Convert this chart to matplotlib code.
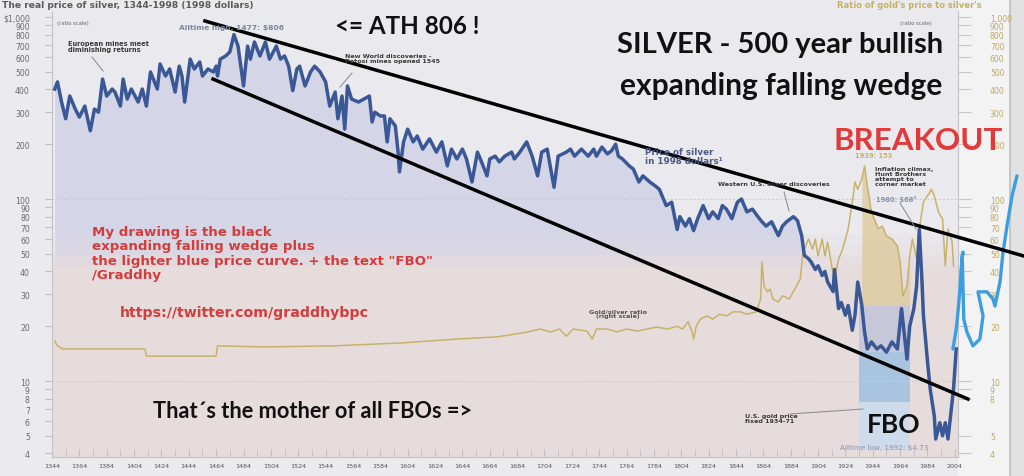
import numpy as np
import matplotlib
matplotlib.use("Agg")
import matplotlib.pyplot as plt
from matplotlib.lines import Line2D
from matplotlib.patches import Rectangle
from matplotlib.ticker import FixedLocator, NullLocator

W, H, DPI = 1024, 477, 100

# ---------------- data ----------------
silver_years = [1346, 1348, 1351, 1354, 1357, 1361, 1364, 1368, 1372, 1375, 1378, 1381, 1384, 1388,
                1390, 1394, 1396, 1399, 1402, 1407, 1410, 1413, 1416, 1421, 1423, 1427, 1430, 1434,
                1437, 1439, 1441, 1445, 1448, 1452, 1454, 1458, 1462, 1464, 1465, 1467, 1471, 1474,
                1477, 1480, 1484, 1487, 1489, 1492, 1496, 1500, 1503, 1508, 1511, 1514, 1517, 1520,
                1523, 1525, 1529, 1533, 1536, 1540, 1544, 1547, 1551, 1553, 1556, 1558, 1560, 1563,
                1568, 1572, 1576, 1578, 1580, 1584, 1587, 1589, 1591, 1595, 1597, 1598, 1601, 1604,
                1608, 1611, 1615, 1620, 1625, 1629, 1633, 1636, 1640, 1644, 1647, 1651, 1655, 1658,
                1662, 1664, 1668, 1671, 1675, 1680, 1682, 1686, 1691, 1695, 1699, 1702, 1706, 1711,
                1714, 1720, 1723, 1726, 1731, 1736, 1740, 1742, 1746, 1750, 1753, 1756, 1758, 1761,
                1766, 1769, 1773, 1776, 1781, 1785, 1788, 1793, 1797, 1801, 1803, 1807, 1810, 1813,
                1816, 1820, 1824, 1827, 1831, 1834, 1837, 1841, 1845, 1848, 1852, 1856, 1860, 1863,
                1866, 1870, 1875, 1878, 1881, 1886, 1889, 1892, 1894, 1897, 1899, 1902, 1904, 1907,
                1909, 1911, 1915, 1916, 1919, 1921, 1924, 1926, 1929, 1931, 1933, 1936, 1938, 1940,
                1943, 1947, 1950, 1954, 1958, 1962, 1965, 1969, 1971, 1974, 1976, 1978, 1980, 1981,
                1984, 1986, 1989, 1990, 1993, 1995, 1997, 1999, 2003, 2005]
silver_values = [402, 440, 341, 276, 368, 312, 282, 324, 237, 312, 300, 456, 368, 402,
                 387, 324, 456, 354, 402, 341, 402, 324, 499, 402, 552, 474, 518, 387,
                 537, 474, 341, 587, 518, 566, 474, 518, 499, 537, 474, 587, 611, 643,
                 800, 692, 418, 692, 587, 729, 611, 729, 587, 692, 587, 611, 537, 394,
                 518, 537, 418, 499, 537, 499, 440, 324, 387, 276, 368, 242, 418, 354,
                 341, 354, 368, 265, 300, 286, 286, 206, 276, 252, 181, 141, 206, 242,
                 206, 222, 188, 214, 181, 206, 152, 188, 166, 188, 166, 124, 181, 160,
                 134, 166, 172, 160, 172, 181, 166, 181, 206, 172, 134, 181, 188, 116,
                 172, 181, 188, 172, 188, 172, 188, 172, 193, 177, 184, 200, 172, 166,
                 152, 146, 124, 134, 124, 118, 113, 92, 96, 68, 80, 71, 78, 67,
                 78, 92, 78, 85, 78, 92, 88, 78, 96, 100, 85, 88, 80, 75,
                 71, 75, 63, 71, 75, 80, 76, 63, 49, 47, 45, 41, 43, 38,
                 40, 35, 31, 41, 25, 27, 23, 26, 19, 23, 35, 26, 18.6, 15,
                 16.4, 15, 15.6, 14.4, 16.4, 15, 25, 13.2, 20, 25, 33, 68, 35, 23,
                 12.8, 9, 6.4, 4.8, 5.9, 5.0, 5.9, 4.8, 9, 15]

ratio_years = [1346, 1348, 1352, 1412, 1413, 1464, 1465, 1500, 1550, 1600, 1640, 1670,
               1690, 1701, 1708, 1715, 1720, 1725, 1735, 1739, 1742, 1750, 1757, 1764,
               1772, 1779, 1786, 1794, 1801, 1805, 1809, 1812, 1813, 1815, 1818, 1823,
               1827, 1832, 1837, 1842, 1847, 1852, 1859, 1862, 1863, 1864.5, 1867, 1869,
               1871, 1875, 1878, 1883, 1887, 1891, 1893, 1897, 1900, 1902, 1904, 1907,
               1909, 1911, 1914, 1916, 1919, 1922, 1926, 1929, 1931, 1933, 1936, 1938,
               1940, 1943, 1946, 1948, 1951, 1954, 1958, 1962, 1964, 1966, 1969, 1971,
               1973, 1976, 1978, 1981, 1984, 1987, 1989, 1992, 1995, 1997, 1999, 2002, 2003]
ratio_values = [16.6, 15.6, 15.0, 15.0, 13.7, 13.7, 15.6, 15.4, 15.6, 16.2, 17.0, 17.5,
                18.5, 19.3, 18.6, 19.3, 17.6, 19.3, 18.8, 17.0, 19.3, 19.3, 18.6, 19.3,
                18.8, 19.3, 19.8, 19.3, 20.0, 19.3, 21.2, 18.6, 17.0, 20.0, 21.9, 22.8,
                21.9, 23.3, 22.8, 24.0, 24.0, 23.3, 24.0, 28.2, 45.1, 33.2, 30.9, 32.0,
                28.2, 27.2, 29.4, 28.2, 32.0, 36.4, 51.2, 60.3, 53.1, 60.3, 48.6, 60.3,
                48.6, 58.0, 42.8, 36.4, 46.8, 53.1, 68.4, 96.3, 124, 113, 129, 152,
                118, 84.8, 74.7, 68.4, 71.0, 62.6, 60.3, 55.2, 45.1, 29.4, 33.2, 48.6,
                60.3, 46.8, 68.4, 96.3, 104, 113, 104, 84.8, 77.6, 42.8, 68.4, 58.0, 42.8]

# hand drawn lighter blue price curve (extends beyond the chart)
drawn_years = [2002.6, 2005.0, 2006.5, 2007.7, 2008.5, 2009.2, 2009.9, 2009.4, 2010.5, 2012.8,
               2017.2, 2022.3, 2024.6, 2020.9, 2027.5, 2031.9, 2033.3, 2037.0, 2039.2, 2042.1,
               2045.8, 2049.4]
drawn_values = [15.0, 19.3, 24.9, 32.0, 40.0, 46.8, 51.1, 48.0, 21.9, 18.6,
                15.6, 17.0, 22.8, 30.9, 30.9, 28.2, 25.8, 35.0, 51.0, 71.0,
                104, 134]

# hand drawn wedge
wedge_upper_years = [1455.8, 2054.5]
wedge_upper_values = [951, 48.6]
wedge_lower_years = [1461.7, 2013.6]
wedge_lower_values = [456, 7.96]

gold_fixed_years = [1934, 1971]
band_levels = [25.8, 14.4, 7.7, 4.2]

xtick_years = list(range(1344, 2005, 20))
left_ticks = [4, 5, 6, 7, 8, 9, 10, 20, 30, 40, 50, 60, 70, 80, 90,
              100, 200, 300, 400, 500, 600, 700, 800, 900, 1000]
left_labels = [str(v) for v in left_ticks[:-1]] + ["$1,000"]
right_ticks = [4, 5, 8, 9, 10, 20, 30, 40, 50, 60, 70, 80, 90,
               100, 200, 300, 400, 500, 600, 700, 800, 900, 1000]
right_labels = [str(v) for v in right_ticks[:-1]] + ["1,000"]

# ---------------- figure ----------------
fig = plt.figure(figsize=(W / DPI, H / DPI), dpi=DPI, facecolor="#ebebed")


def fx(x):
    return x / W


def fy(y):
    return 1 - y / H


# right strip (drawn beneath the axes)
fig.patches.append(Rectangle((fx(958), 0), fx(52), 1, transform=fig.transFigure,
                             facecolor="#f3f3f3", edgecolor="none", zorder=-10))
fig.patches.append(Rectangle((fx(1010), 0), fx(14), 1, transform=fig.transFigure,
                             facecolor="#e2e2e2", edgecolor="none", zorder=-10))
fig.add_artist(Line2D([fx(1010), fx(1010)], [0, 1], transform=fig.transFigure,
                      color="#bdbdbd", lw=1.2, zorder=-9))

ax = fig.add_axes([fx(52), fy(458), fx(906), 446 / H])
ax.set_yscale("log")
ax.set_xlim(1344, 2006.3)
ax.set_ylim(3.824, 1079)
ax.set_facecolor("#e9e9ee")

sy = np.array(silver_years, dtype=float)
sv = np.array(silver_values, dtype=float)
ry = np.array(ratio_years, dtype=float)
rv = np.array(ratio_values, dtype=float)

# shading under price
ax.fill_between(sy, sv, 3.0, color="#d4d5e7", lw=0, zorder=1)
ax.axhspan(1, 43, color="#e6dcdc", lw=0, zorder=1.2)
ax.axhspan(43, 49, color="#e6dcdc", alpha=0.7, lw=0, zorder=1.2)
ax.axhspan(49, 56, color="#e6dcdc", alpha=0.4, lw=0, zorder=1.2)
ax.axhspan(56, 64, color="#e6dcdc", alpha=0.2, lw=0, zorder=1.2)

# gold fixed band
g0, g1 = gold_fixed_years
m = (ry >= g0) & (ry <= g1)
ax.fill_between(ry, rv, band_levels[0], where=m & (rv > band_levels[0]),
                color="#dcc48c", alpha=0.65, lw=0, zorder=1.5)
ax.fill_between([g0, g1], band_levels[1], band_levels[0], color="#c6c8da", lw=0, zorder=1.5)
ax.fill_between([g0, g1], band_levels[2], band_levels[1], color="#a9c4de", lw=0, zorder=1.5)
ax.fill_between([g0, g1], band_levels[3], band_levels[2], color="#cddbeb", lw=0, zorder=1.5)

# faint grid lines
for v in (100, 10):
    ax.axhline(v, color="#cbcbd6", lw=0.7, ls=(0, (2, 2)), zorder=1.6)

# lines
ax.plot(ry, rv, color="#c8b26a", lw=1.1, zorder=3)
ax.plot(sy, sv, color="#3b5896", lw=2.5, zorder=4, solid_joinstyle="round")
ax.plot(drawn_years, drawn_values, color="#3c9ee0", lw=2.4, zorder=6, clip_on=False,
        solid_joinstyle="round", solid_capstyle="round")
ax.plot(wedge_upper_years, wedge_upper_values, color="black", lw=2.5, zorder=7, clip_on=False)
ax.plot(wedge_lower_years, wedge_lower_values, color="black", lw=2.5, zorder=7, clip_on=False)

# axes styling
ax.spines["top"].set_visible(False)
for s in ("left", "bottom", "right"):
    ax.spines[s].set_color("#c4c4c8")
    ax.spines[s].set_linewidth(0.8)

ax.xaxis.set_major_locator(FixedLocator(xtick_years))
ax.set_xticklabels([str(v) for v in xtick_years])
ax.xaxis.set_minor_locator(FixedLocator([v + 10 for v in xtick_years[:-1]]))
ax.tick_params(axis="x", which="both", direction="in", length=6, color="#c0c0c6",
               labelsize=4.6, labelcolor="#555555", pad=4)

ax.yaxis.set_major_locator(FixedLocator(left_ticks))
ax.yaxis.set_minor_locator(NullLocator())
ax.set_yticklabels(left_labels)
ax.tick_params(axis="y", which="both", direction="out", length=5, color="#c0c0c6",
               labelsize=5.6, labelcolor="#6a6a6a", pad=11)

ax2 = ax.twinx()
ax2.set_yscale("log")
ax2.set_ylim(ax.get_ylim())
ax2.yaxis.set_major_locator(FixedLocator(right_ticks))
ax2.yaxis.set_minor_locator(NullLocator())
ax2.set_yticklabels(right_labels)
ax2.tick_params(axis="y", which="both", direction="out", length=9, color="#c8c8cc",
                labelsize=5.6, labelcolor="#c2a95a", pad=14)
for s in ax2.spines.values():
    s.set_visible(False)
ax2.set_zorder(-1)

# ---------------- texts ----------------
dark = "#3a3a3a"


def t(x, y, s, **kw):
    fig.text(fx(x), fy(y), s, **kw)


t(2, 6, "The real price of silver, 1344-1998 (1998 dollars)", fontsize=6.6,
  fontweight="bold", color="#5b5b5b", va="center")
t(57, 24, "(ratio scale)", fontsize=3.8, color="#666666", va="center")
t(837, 6, "Ratio of gold's price to silver's", fontsize=6.0, fontweight="bold",
  color="#c8b060", va="center")
t(900, 24, "(ratio scale)", fontsize=3.8, color="#666666", va="center")
t(179, 28, "Alltime high, 1477: $806", fontsize=5.4, fontweight="bold",
  color="#7d85a2", va="center")
t(68, 47, "European mines meet\ndiminishing returns", fontsize=4.8, fontweight="bold",
  color=dark, va="center", linespacing=1.0)
t(345, 59, "New World discoveries -\nPotosí mines opened 1545", fontsize=4.6,
  fontweight="bold", color=dark, va="center", linespacing=1.0)
t(718, 185, "Western U.S. silver discoveries", fontsize=4.6, fontweight="bold",
  color=dark, va="center")
t(645, 157, "Price of silver\nin 1998 dollars¹", fontsize=6.3, fontweight="bold",
  color="#4b5a86", va="center", linespacing=1.0)
t(855, 156, "1939: 153", fontsize=4.8, fontweight="bold", color="#c8b060", va="center")
t(875, 177, "Inflation climax,\nHunt Brothers\nattempt to\ncorner market", fontsize=4.6,
  fontweight="bold", color=dark, va="center", linespacing=0.95)
t(876, 200, "1980: $68²", fontsize=4.8, fontweight="bold", color="#8a90a8", va="center")
t(745, 419, "U.S. gold price\nfixed 1934-71", fontsize=4.6, fontweight="bold",
  color=dark, va="center", linespacing=0.95)
t(840, 448, "Alltime low, 1992: $4.73", fontsize=5.2, color="#8a92b4", va="center")
t(618, 314, "Gold/silver ratio\n(right scale)", fontsize=4.6, fontweight="bold",
  color="#555555", va="center", ha="center", linespacing=1.0)

leaders = [((92, 58), (103, 72)), ((352, 74), (340, 88)), ((784, 193), (789, 212)),
           ((900, 204), (916, 230)), ((790, 415), (863, 410))]
for (x0, y0), (x1, y1) in leaders:
    fig.add_artist(Line2D([fx(x0), fx(x1)], [fy(y0), fy(y1)], transform=fig.transFigure,
                          color="#888888", lw=0.7, zorder=8))

big = ["Lato", "DejaVu Sans"]
t(335, 27, "<= ATH 806 !", fontsize=17.4, fontweight="bold", family=big, color="#111111",
  va="center")
t(617, 45, "SILVER - 500 year bullish", fontsize=21, fontweight="bold", family=big,
  color="#111111", va="center")
t(620, 86, "expanding falling wedge", fontsize=21.5, fontweight="bold", family=big,
  color="#111111", va="center")
t(834, 141, "BREAKOUT", fontsize=22.5, fontweight="bold", family=big, color="#e23a3a",
  va="center", zorder=9)
t(867, 425, "FBO", fontsize=19, fontweight="bold", family=big, color="#111111",
  va="center", zorder=9)
t(153, 412, "That´s the mother of all FBOs =>", fontsize=15.7, fontweight="bold", family=big,
  color="#111111", va="center")

red = "#d53c3c"
t(92, 226, 'My drawing is the black\nexpanding falling wedge plus\n'
  'the lighter blue price curve. + the text "FBO"\n/Graddhy',
  fontsize=9.6, fontweight="bold", color=red, va="top", linespacing=1.13)
t(120, 313, "https://twitter.com/graddhybpc", fontsize=10.2, fontweight="bold",
  color=red, va="center")

fig.savefig("out.png", dpi=DPI, facecolor=fig.get_facecolor())
